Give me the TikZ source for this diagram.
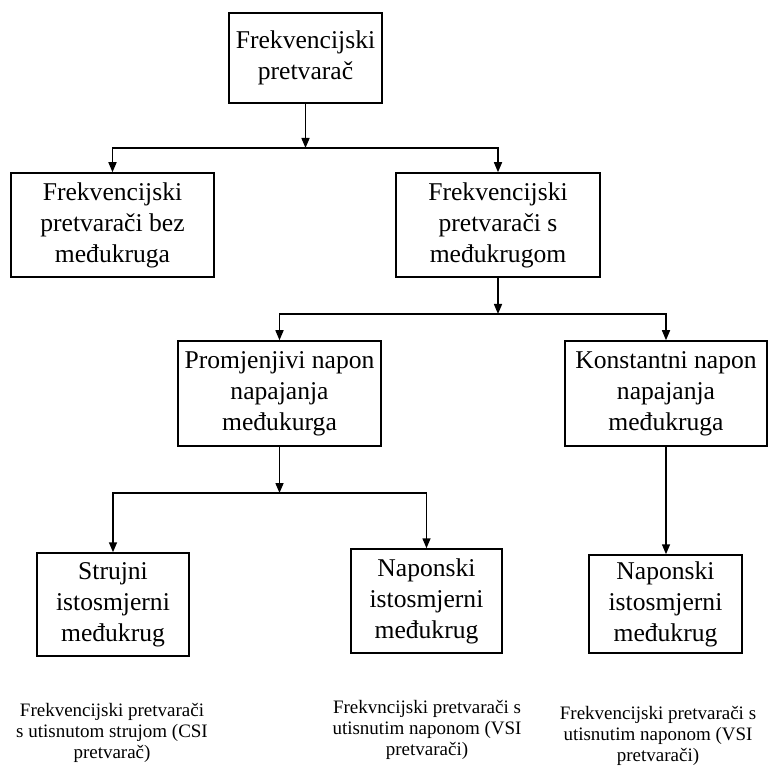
\documentclass[tikz,border=0pt]{standalone}
\usepackage{fontspec}
\setmainfont{Liberation Serif}
\usetikzlibrary{arrows.meta, positioning}

\begin{document}
\begin{tikzpicture}[x=0.5pt, y=-0.5pt,
    blok/.style={draw, line width=0.75pt, align=center, inner sep=0pt,
      font=\fontsize{12.8}{15.5}\selectfont},
    opis/.style={align=center, inner sep=0pt,
      font=\fontsize{9.5}{10.6}\selectfont},
    veza/.style={line width=0.75pt, -{Triangle[length=5pt, width=4pt]}}]
  \useasboundingbox (0,0) rectangle (770,769);

  % prvi nivo
  \node[blok, minimum width=76.5pt, minimum height=45pt] (fp) at (305.5,58)
    {Frekvencijski\\pretvarač};

  % drugi nivo
  \node[blok, minimum width=101.5pt, minimum height=52pt] (bez) at (112.5,225)
    {Frekvencijski\\pretvarači bez\\međukruga};
  \node[blok, minimum width=102pt, minimum height=52pt] (sa) at (498,225)
    {Frekvencijski\\pretvarači s\\međukrugom};

  % treci nivo
  \node[blok, minimum width=101.5pt, minimum height=52.5pt] (prom) at (279.5,393.5)
    {Promjenjivi napon\\napajanja\\međukurga};
  \node[blok, minimum width=101pt, minimum height=52.5pt] (konst) at (666,393.5)
    {Konstantni napon\\napajanja\\međukruga};

  % cetvrti nivo
  \node[blok, minimum width=76pt, minimum height=51.5pt] (struj) at (113,604.5)
    {Strujni\\istosmjerni\\međukrug};
  \node[blok, minimum width=75.5pt, minimum height=52pt] (nap1) at (426.5,601)
    {Naponski\\istosmjerni\\međukrug};
  \node[blok, minimum width=76.5pt, minimum height=49pt] (nap2) at (665.5,604)
    {Naponski\\istosmjerni\\međukrug};

  % opisi ispod
  \node[opis] (csi) at (112,733)
    {Frekvencijski pretvarači\\s utisnutom strujom (CSI\\pretvarač)};
  \node[opis] (vsi1) at (427,730)
    {Frekvncijski pretvarači s\\utisnutim naponom (VSI\\pretvarači)};
  \node[opis] (vsi2) at (658,736)
    {Frekvencijski pretvarači s\\utisnutim naponom (VSI\\pretvarači)};

  % veze
  \coordinate (r1) at (305.5,148);
  \coordinate (r2) at (498,314);
  \coordinate (r3) at (279.5,493);
  \draw[veza] (fp) -- (r1);
  \draw[veza] (r1) -| (bez.north);
  \draw[veza] (r1) -| (sa.north);
  \draw[veza] (sa) -- (r2);
  \draw[veza] (r2) -| (prom.north);
  \draw[veza] (r2) -| (konst.north);
  \draw[veza] (prom) -- (r3);
  \draw[veza] (r3) -| (struj.north);
  \draw[veza] (r3) -| (nap1.north);
  \draw[veza] (konst.south) -- (konst.south |- nap2.north);
\end{tikzpicture}
\end{document}
